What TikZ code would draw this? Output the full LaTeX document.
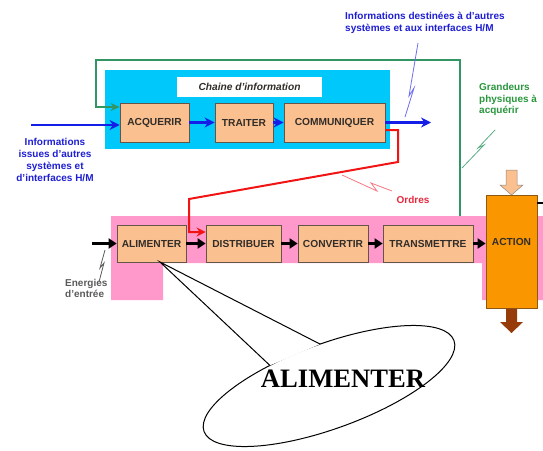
\documentclass[tikz,border=0pt]{standalone}
\usepackage{fontspec}
\setmainfont{Liberation Sans}
\newfontfamily\calloutfont{Liberation Serif}
\usetikzlibrary{arrows.meta}
\definecolor{cyanbg}{RGB}{0,200,250}
\definecolor{peach}{RGB}{250,192,144}
\definecolor{boxedge}{RGB}{100,85,70}
\definecolor{pinkbg}{RGB}{255,153,204}
\definecolor{actorange}{RGB}{250,150,0}
\definecolor{actedge}{RGB}{140,90,20}
\definecolor{outbrown}{RGB}{150,60,10}
\definecolor{grline}{RGB}{50,150,100}
\definecolor{grtext}{RGB}{40,150,60}
\definecolor{bl}{RGB}{20,30,230}
\definecolor{bltext}{RGB}{30,30,210}
\definecolor{bllight}{RGB}{110,110,240}
\definecolor{rd}{RGB}{240,20,20}
\definecolor{rdtext}{RGB}{230,40,60}
\definecolor{rdlight}{RGB}{245,120,130}
\definecolor{labeltext}{RGB}{50,45,40}
\definecolor{grey}{RGB}{90,90,90}
\begin{document}
\begin{tikzpicture}[x=1pt,y=-1pt,
  fnbox/.style={draw=boxedge, line width=0.8pt, fill=peach, inner sep=0pt,
    font=\fontsize{10.2}{12}\selectfont\bfseries, text=labeltext},
  toprow/.style={fnbox, minimum height=39pt},
  botrow/.style={fnbox, minimum height=37pt},
  blarrow/.style={bl, line width=2.5pt, -{Stealth[length=10pt,width=10pt]}},
  blkarrow/.style={black, line width=2.2pt, -{Triangle[length=8pt,width=10pt]}},
  lightning/.style={line width=0.8pt},
  lbl/.style={inner sep=0pt, font=\fontsize{10}{11.8}\selectfont\bfseries}
]
\useasboundingbox (0,0) rectangle (543,450);

% background zones
\fill[cyanbg] (105,70) rectangle (390,149);
\node[fill=white, inner sep=0pt, minimum width=145pt, minimum height=20pt,
  font=\fontsize{10.2}{12}\selectfont\bfseries\itshape, text=labeltext] (chain) at (249.5,87) {Chaine d'information};

% texts
\node[lbl, text=bltext, align=left, anchor=west] (infout) at (345,22.5)
  {Informations destinées à d'autres\\systèmes et aux interfaces H/M};
\node[lbl, text=bltext, align=center] (infin) at (55,160)
  {Informations\\issues d'autres\\systèmes et\\d'interfaces H/M};
\node[lbl, text=grtext, align=left, anchor=west] (grand) at (479,99.5)
  {Grandeurs\\physiques à\\acquérir};
\node[lbl, text=rdtext] (ordres) at (413,200) {Ordres};
\node[lbl, text=grey, align=left, anchor=west] (energ) at (65,288.5)
  {Energies\\d'entrée};

% pink zone
\fill[pinkbg] (111,216) -- (543,216) -- (543,300) -- (482,300) -- (482,263)
  -- (163,263) -- (163,300) -- (111,300) -- cycle;

% top row
\node[toprow, minimum width=69pt] (acq) at (154.5,122.5) {ACQUERIR};
\node[toprow, minimum width=58pt] (trt) at (244,122.5) {TRAITER};
\node[toprow, minimum width=101pt] (com) at (334.5,122.5) {COMMUNIQUER};

% bottom row
\node[botrow, minimum width=69pt] (ali) at (151.5,243.5) {ALIMENTER};
\node[botrow, minimum width=75pt] (dis) at (243.5,243.5) {DISTRIBUER};
\node[botrow, minimum width=70pt] (cnv) at (333,243.5) {CONVERTIR};
\node[botrow, minimum width=90pt] (trm) at (428,243.5) {TRANSMETTRE};

% action block
\node[draw=actedge, line width=0.8pt, fill=actorange, inner sep=0pt,
  minimum width=51pt, minimum height=113pt,
  label={[yshift=9.5pt, font=\fontsize{10.2}{12}\selectfont\bfseries, text=labeltext]center:ACTION}]
  (act) at (511.5,251.5) {};
\fill[peach, draw=boxedge!70, line width=0.5pt] (506,170) -- (517,170) -- (517,185) -- (523,185)
  -- (511.5,195) -- (500,185) -- (506,185) -- cycle;
\fill[outbrown] (506,308.5) -- (517,308.5) -- (517,322) -- (523,322)
  -- (511.5,333) -- (500,322) -- (506,322) -- cycle;
\coordinate (actout) at (543,203);
\draw[black, line width=1.5pt] (actout -| act.east) -- (actout);

% green feedback
\coordinate (gin) at (96,107);
\draw[grline, line width=2pt, -{Stealth[length=9pt,width=8pt]}]
  (460,216) -- (460,60) -- (96,60) -- (gin) -- (gin -| acq.west);

% blue information flow
\coordinate (binfrom) at (31,125);
\draw[blarrow] (binfrom) -- (binfrom -| acq.west);
\draw[blarrow] (acq) -- (trt);
\draw[blarrow] (trt) -- (com);
\coordinate (bout) at (431,122.5);
\draw[blarrow] (com) -- (bout);

% red orders
\coordinate (r1) at (398,130);
\coordinate (r2) at (189,232);
\draw[rd, line width=2pt, -{Stealth[length=9pt,width=9pt]}]
  (r1 -| com.east) -- (r1) -- (398,162) -- (189,199) -- (r2) -- (r2 -| dis.west);

% black energy flow
\coordinate (ein) at (92,243.5);
\draw[blkarrow] (ein) -- (ein -| ali.west);
\draw[blkarrow] (ali) -- (dis);
\draw[blkarrow] (dis) -- (cnv);
\draw[blkarrow] (cnv) -- (trm);
\draw[blkarrow] (trm.east) -- (trm.east -| act.west);

% lightning marks
\draw[lightning, bllight] (418,43) -- (409,96) -- (414,88) -- (405,117);
\draw[lightning, grline!80] (495,130) -- (478,148) -- (484,145) -- (462,168);
\draw[lightning, rdlight] (342,175) -- (377,191) -- (371,183) -- (392,191);
\draw[lightning, grey] (105,250) -- (100,268) -- (104,263) -- (99,282);

% callout
\draw[line width=1pt, rotate around={20:(329,386)}] (329,386) ellipse [x radius=133, y radius=42.5];
\coordinate (tip) at (160,262);
\coordinate (cb1) at (269.9,365.4);
\coordinate (cb2) at (320.1,344.1);
\fill[white] (tip) -- (cb1) -- (cb2) -- cycle;
\draw[line width=1pt, line join=miter] (cb1) -- (tip) -- (cb2);
\node[inner sep=0pt, font=\calloutfont\bfseries\fontsize{26.6}{30}\selectfont] (ctext) at (343,379) {ALIMENTER};
\end{tikzpicture}
\end{document}
